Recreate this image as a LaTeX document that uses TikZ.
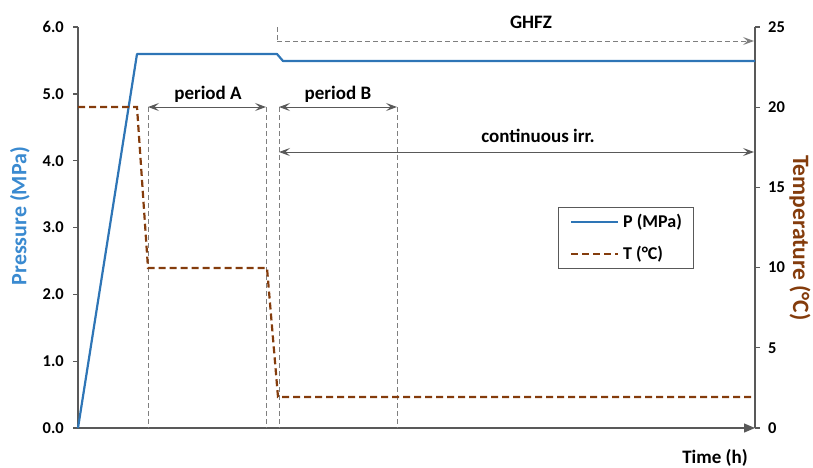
\documentclass[tikz,border=0pt]{standalone}
\usepackage{fontspec}
\setmainfont{Carlito}
\usetikzlibrary{arrows.meta}
\definecolor{pblue}{HTML}{2E75B6}
\definecolor{tlabel}{HTML}{3A8AD0}
\definecolor{tbrown}{HTML}{843C0C}
\definecolor{axisgray}{HTML}{595959}
\definecolor{guidegray}{HTML}{7F7F7F}
\tikzset{
  axisline/.style={draw=axisgray, line width=1.3pt},
  ticklab/.style={inner sep=0pt, font=\fontsize{16.5}{18}\selectfont\bfseries},
  annot/.style={inner sep=0pt, font=\fontsize{19}{22}\selectfont\bfseries},
  title/.style={inner sep=0pt, font=\fontsize{22}{24}\selectfont\bfseries},
  pline/.style={draw=pblue, line width=2.2pt, line join=round},
  tline/.style={draw=tbrown, line width=2.2pt, dash pattern=on 7pt off 4pt},
  guide/.style={draw=guidegray, line width=1pt, dash pattern=on 5pt off 3pt},
  dimarrow/.style={draw=axisgray, line width=1pt, {Stealth[length=11pt,width=8pt,inset=4.5pt]}-{Stealth[length=11pt,width=8pt,inset=4.5pt]}},
  onearrow/.style={-{Stealth[length=11pt,width=8pt,inset=4.5pt]}},
}
\begin{document}
\begin{tikzpicture}[x=1pt, y=-1pt]
\useasboundingbox (0,0) rectangle (813,467);
% axes
\draw[axisline] (78,27) -- (78,428);
\draw[axisline] (755,27) -- (755,428);
\foreach \v/\l in {0/0.0,1/1.0,2/2.0,3/3.0,4/4.0,5/5.0,6/6.0} {
  \draw[axisline] (73,{428-\v*66.83}) -- (78,{428-\v*66.83});
  \node[ticklab, anchor=east] (pl\v) at (64,{428-\v*66.83}) {\l};
}
\foreach \t in {0,5,10,15,20,25} {
  \draw[axisline] (755,{428-\t*16.04}) -- (760,{428-\t*16.04});
  \node[ticklab, anchor=west] (tl\t) at (768,{428-\t*16.04}) {\t};
}
\coordinate (xo) at (78,428);
\coordinate (xe) at (755,428);
\draw[axisline, -{Triangle[length=11pt,width=9pt]}] (xo) -- (xe);
% guides
\draw[guide] (148,107) -- (148,428);
\draw[guide] (266,107) -- (266,428);
\draw[guide] (279,107) -- (279,428);
\draw[guide] (397,107) -- (397,428);
\draw[guide] (277,27) -- (277,41);
% data
\draw[pline] (78,428) -- (137,54) -- (277,54) -- (283,61) -- (755,61);
\draw[tline] (78,107) -- (137,107) -- (148,268) -- (267,268) -- (278,397) -- (755,397);
% arrows
\coordinate (gs) at (277,41);
\coordinate (ge) at (754,41);
\draw[guide, onearrow] (gs) -- (ge);
\coordinate (as) at (148,107);
\coordinate (ae) at (266,107);
\draw[dimarrow] (as) -- (ae);
\coordinate (bs) at (279,107);
\coordinate (be) at (397,107);
\draw[dimarrow] (bs) -- (be);
\coordinate (cs) at (279,152);
\coordinate (ce) at (754,152);
\draw[dimarrow] (cs) -- (ce);
% labels
\node[annot] (ghfz) at (531,22) {GHFZ};
\node[annot] (pa) at (208,94) {period A};
\node[annot] (pb) at (338,94) {period B};
\node[annot] (ci) at (538,136) {continuous irr.};
\node[annot] (time) at (715,458) {Time (h)};
\node[title, text=tlabel, rotate=90] (ptitle) at (20,216) {Pressure (MPa)};
\node[title, text=tbrown, rotate=-90, font=\fontsize{23.5}{26}\selectfont\bfseries] (ttitle) at (800,238) {Temperature (°C)};
% legend
\draw[draw=axisgray, line width=0.8pt, fill=white] (558,207) rectangle (693,268);
\draw[pline] (571,222) -- (618,222);
\draw[tline] (571,254) -- (618,254);
\node[annot, anchor=west, font=\fontsize{18}{21}\selectfont\bfseries] (lp) at (623,222) {P (MPa)};
\node[annot, anchor=west, font=\fontsize{18}{21}\selectfont\bfseries] (lt) at (623,254) {T (°C)};
\end{tikzpicture}
\end{document}
